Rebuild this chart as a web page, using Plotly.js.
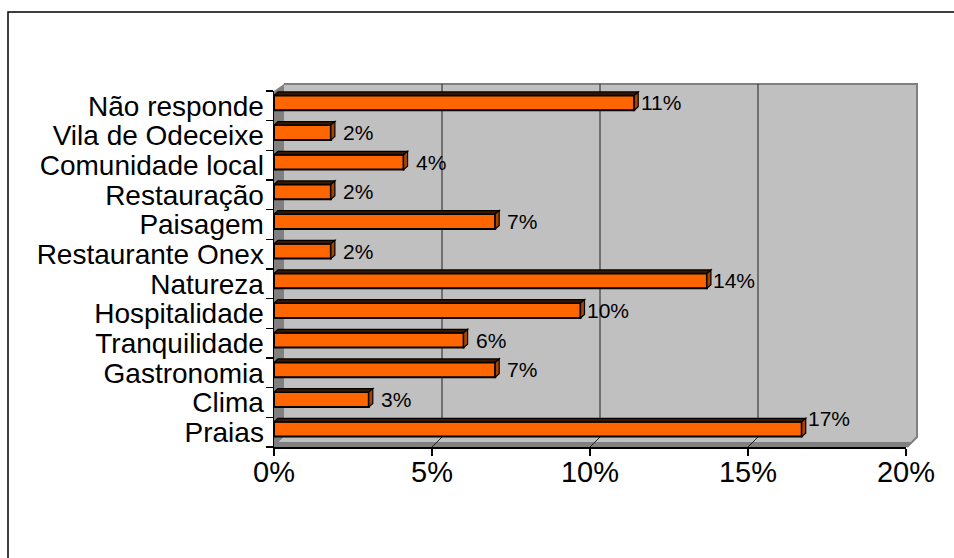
<!DOCTYPE html>
<html><head><meta charset="utf-8">
<script src="https://cdn.plot.ly/plotly-3.0.1.min.js"></script>
<style>html,body{margin:0;padding:0;background:#fff;} #chart{width:954px;height:558px;}</style>
</head><body><div id="chart"></div>
<script>
// ---- data (bottom to top) ----
const categories = ["Praias","Clima","Gastronomia","Tranquilidade","Hospitalidade","Natureza","Restaurante Onex","Paisagem","Restauração","Comunidade local","Vila de Odeceixe","Não responde"];
const values = [16.7, 3.0, 7.0, 6.0, 9.7, 13.7, 1.8, 7.0, 1.8, 4.1, 1.8, 11.4];
const xTickValues = [0, 5, 10, 15, 20];
const xTickLabels = ["0%", "5%", "10%", "15%", "20%"];
const gridValues = [5, 10, 15];

// ---- layout geometry (pixels) ----
const W = 954, H = 558;
const L = 274, R = 906, T = 91, B = 447;     // front face of plot
const BL = 284, BR = 917, BT = 84, BB = 437; // back wall
function px(x){ return (x - L) / (R - L); }
function py(y){ return (B - y) / (B - T); }
const bandPx = (B - T) / categories.length;
const barWidth = 0.5, barOffset = -0.15;
const topPx = (barOffset + barWidth) * bandPx;
const botPx = barOffset * bandPx;
const depthX = 4, depthY = 3.5;
const depthXData = depthX * 20 / (R - L);
const FONT = 'Liberation Sans, Arial, sans-serif';

const shapes = [];
// outer frame
shapes.push({type:'rect', xref:'paper', yref:'paper', x0:px(8), x1:px(970), y0:py(580), y1:py(12),
  line:{color:'#000', width:1.5}, fillcolor:'rgba(0,0,0,0)', layer:'below'});
// back wall
shapes.push({type:'rect', xref:'paper', yref:'paper', x0:px(BL), x1:px(BR), y0:py(BB), y1:py(BT),
  line:{width:0}, fillcolor:'#c0c0c0', layer:'below'});
// left wall
shapes.push({type:'path', xref:'paper', yref:'paper',
  path:`M ${px(L)},${py(T)} L ${px(BL)},${py(BT)} L ${px(BL)},${py(BB)} L ${px(L)},${py(B)} Z`,
  line:{width:0}, fillcolor:'#808080', layer:'below'});
// floor top
shapes.push({type:'path', xref:'paper', yref:'paper',
  path:`M ${px(L)},${py(B)} L ${px(BL)},${py(BB)} L ${px(BR)},${py(BB)} L ${px(R+1)},${py(B)} Z`,
  line:{width:0}, fillcolor:'#c0c0c0', layer:'below'});
// floor front strip
shapes.push({type:'path', xref:'paper', yref:'paper',
  path:`M ${px(L)},${py(B-5)} L ${px(R+6)},${py(B-5)} L ${px(R+1)},${py(B)} L ${px(L)},${py(B)} Z`,
  line:{width:0}, fillcolor:'#808080', layer:'below'});
// back wall edges (top and right)
shapes.push({type:'path', xref:'paper', yref:'paper',
  path:`M ${px(BL)},${py(BT)} L ${px(BR)},${py(BT)} L ${px(BR)},${py(BB)} L ${px(R+1)},${py(B)}`,
  line:{color:'#808080', width:2}, layer:'below'});
// gridlines on back wall + floor diagonals
gridValues.forEach(v => {
  shapes.push({type:'line', xref:'x', xsizemode:'pixel', xanchor:v, x0:BL-L, x1:BL-L,
    yref:'paper', y0:py(BB), y1:py(BT), line:{color:'#202020', width:1}, layer:'below'});
  shapes.push({type:'line', xref:'x', xsizemode:'pixel', xanchor:v, x0:BL-L, x1:0,
    yref:'paper', y0:py(BB), y1:py(B), line:{color:'#202020', width:1}, layer:'below'});
});
// 3D faces for each bar
values.forEach((v, i) => {
  shapes.push({type:'path', xref:'x', yref:'y', ysizemode:'pixel', yanchor:i,
    path:`M 0,${topPx} L ${depthXData},${topPx+depthY} L ${v+depthXData},${topPx+depthY} L ${v},${topPx} Z`,
    fillcolor:'#3a1800', line:{color:'#000', width:1.2}, layer:'above'});
  shapes.push({type:'path', xref:'x', xsizemode:'pixel', xanchor:v, yref:'y', ysizemode:'pixel', yanchor:i,
    path:`M 0,${botPx} L ${depthX},${botPx+depthY} L ${depthX},${topPx+depthY} L 0,${topPx} Z`,
    fillcolor:'#a84400', line:{color:'#000', width:1.2}, layer:'above'});
});

const annotations = values.map((v, i) => ({
  x: v, y: categories[i], xref:'x', yref:'y', text: Math.round(v) + '%',
  showarrow:false, xanchor:'center', yanchor:'middle', xshift:27, yshift: (i === 0 ? 14 : 3),
  font:{family:FONT, size:21, color:'#000'}
}));

const trace = {
  type:'bar', orientation:'h', y:categories, x:values,
  width:barWidth, offset:barOffset,
  marker:{color:'#ff6600', line:{color:'#000', width:2}},
  hoverinfo:'skip'
};

const layout = {
  width:W, height:H,
  margin:{l:L, r:W-R, t:T, b:H-B, pad:0},
  paper_bgcolor:'#fff', plot_bgcolor:'rgba(0,0,0,0)',
  showlegend:false,
  font:{family:FONT, color:'#000'},
  xaxis:{range:[0,20], tickmode:'array', tickvals:xTickValues, ticktext:xTickLabels, showgrid:false, zeroline:false,
    showline:true, linecolor:'#000', linewidth:1.5, ticks:'outside', ticklen:7, tickcolor:'#000', tickwidth:1.5,
    ticklabelstandoff:-8,
    tickfont:{size:29, family:FONT, color:'#000'}, fixedrange:true},
  yaxis:{type:'category', categoryorder:'array', categoryarray:categories, range:[-0.5, categories.length-0.5],
    tickmode:'linear', tick0:0, dtick:1,
    tickson:'boundaries', ticks:'outside', ticklen:7, tickcolor:'#000', tickwidth:1.5,
    ticklabelstandoff:3,
    showline:true, linecolor:'#000', linewidth:1.5, showgrid:false, zeroline:false,
    tickfont:{size:28, family:FONT, color:'#000'}, fixedrange:true},
  bargap:0,
  shapes:shapes,
  annotations:annotations
};

Plotly.newPlot('chart', [trace], layout, {staticPlot:true, displayModeBar:false});
</script>
</body></html>
